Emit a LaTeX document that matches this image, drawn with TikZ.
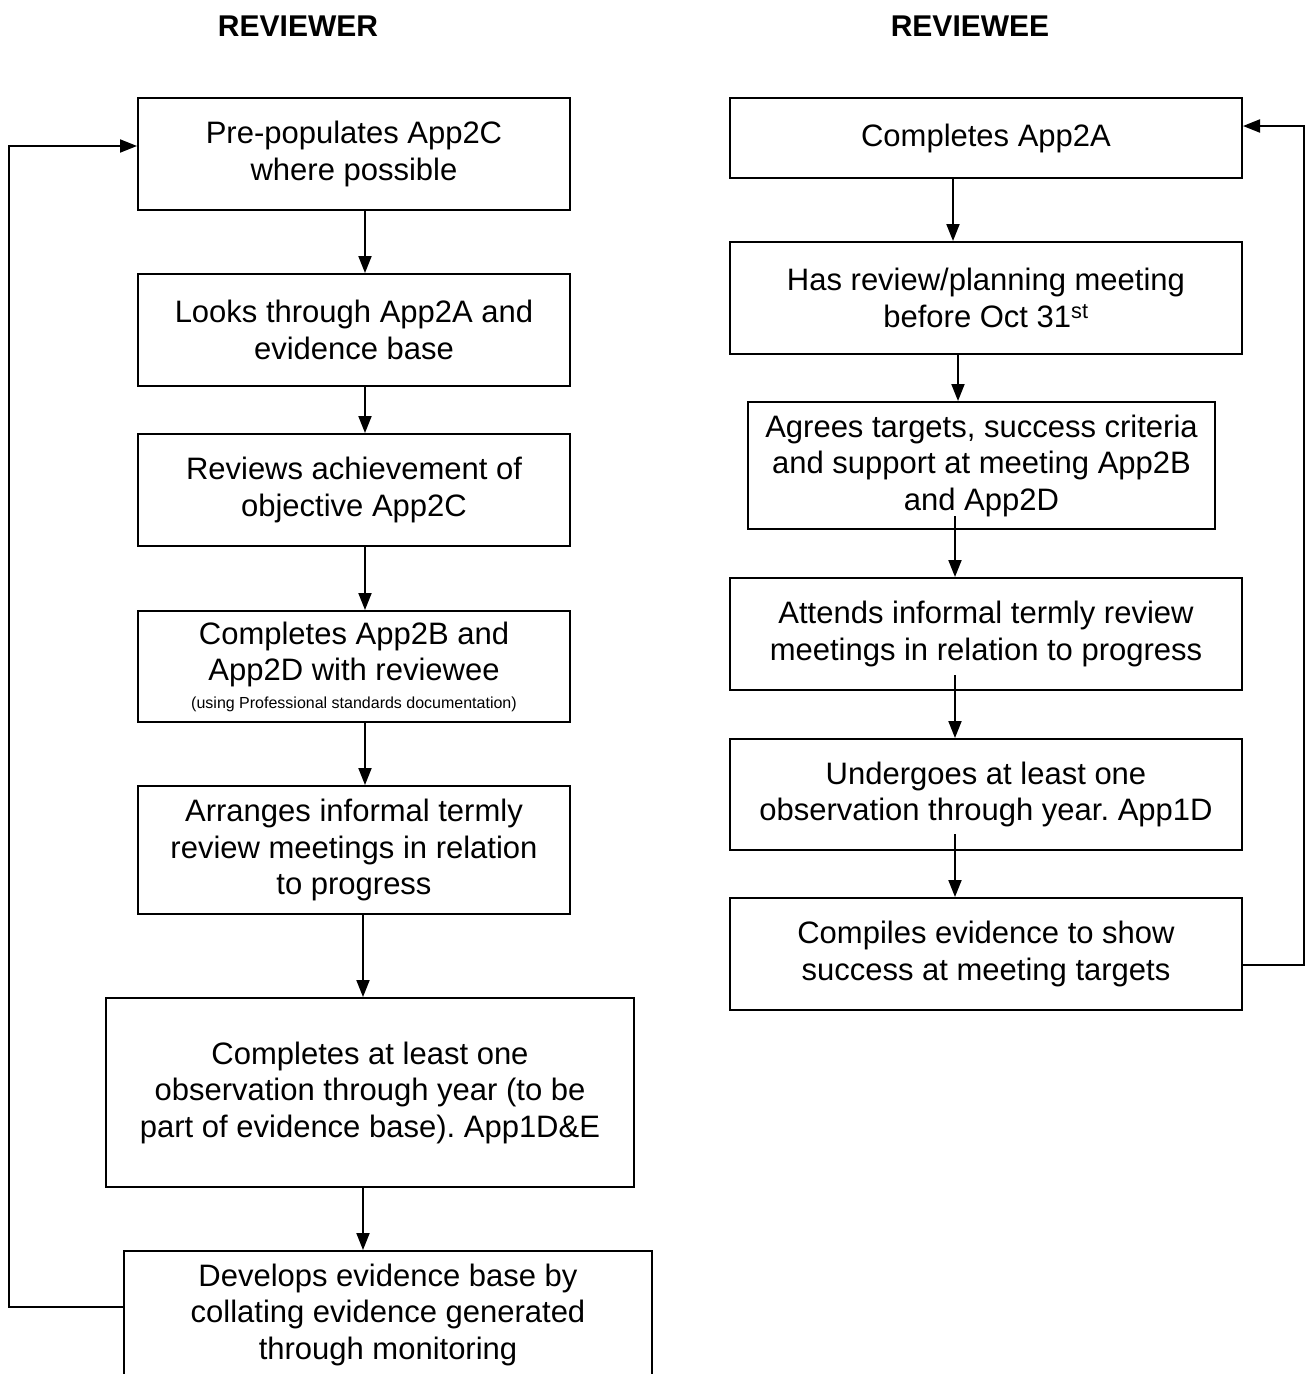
\documentclass[tikz,border=0pt]{standalone}
\usepackage{fontspec}
\setmainfont{Liberation Sans}
\usetikzlibrary{arrows.meta,calc}
\frenchspacing
\begin{document}
\begin{tikzpicture}[x=1pt,y=-1pt,
  box/.style={draw,line width=2pt,align=center,inner sep=0pt,
    font=\fontsize{31}{36.5}\selectfont},
  conn/.style={line width=2pt,-{Triangle[length=17pt,width=13pt]}},
  ttl/.style={font=\fontsize{30}{36}\selectfont\bfseries}]
\clip (0,0) rectangle (1306,1374);
\fill[white] (0,0) rectangle (1306,1374);
% titles
\node[ttl] (t1) at (298,26) {REVIEWER};
\node[ttl] (t2) at (970,26) {REVIEWEE};
% left column
\node[box,minimum width=432pt,minimum height=112pt] (l1) at (354,154) {Pre-populates App2C\\where possible};
\node[box,minimum width=432pt,minimum height=112pt] (l2) at (354,330) {Looks through App2A and\\evidence base};
\node[box,minimum width=432pt,minimum height=112pt] (l3) at (354,490) {Reviews achievement of\\objective App2C};
\node[box,minimum width=432pt,minimum height=111pt] (l4) at (354,666.5) {Completes App2B and\\App2D with reviewee\\[-9pt]{\fontsize{16}{18}\selectfont (using Professional standards documentation)}};
\node[box,minimum width=432pt,minimum height=128pt] (l5) at (354,850) {Arranges informal termly\\review meetings in relation\\to progress};
\node[box,minimum width=528pt,minimum height=189pt] (l6) at (370,1092.5) {Completes at least one\\observation through year (to be\\part of evidence base). App1D\&E};
\node[box,minimum width=528pt,anchor=north,inner ysep=13pt] (l7) at (388,1250) {Develops evidence base by\\collating evidence generated\\through monitoring};
% right column
\node[box,minimum width=512pt,minimum height=80pt] (r1) at (986,138) {Completes App2A};
\node[box,minimum width=512pt,minimum height=112pt] (r2) at (986,298) {Has review/planning meeting\\before Oct 31\textsuperscript{st}};
\node[box,minimum width=467pt,minimum height=127pt] (r3) at (981.5,465.5) {Agrees targets, success criteria\\and support at meeting App2B\\and App2D};
\node[box,minimum width=512pt,minimum height=112pt] (r4) at (986,634) {Attends informal termly review\\meetings in relation to progress};
\node[box,minimum width=512pt,minimum height=111pt] (r5) at (986,794.5) {Undergoes at least one\\observation through year. App1D};
\node[box,minimum width=512pt,minimum height=112pt] (r6) at (986,954) {Compiles evidence to show\\success at meeting targets};
% left connectors
\draw[conn] ([xshift=11pt]l1.south) -- ([xshift=11pt]l2.north);
\draw[conn] ([xshift=11pt]l2.south) -- ([xshift=11pt]l3.north);
\draw[conn] ([xshift=11pt]l3.south) -- ([xshift=11pt]l4.north);
\draw[conn] ([xshift=11pt]l4.south) -- ([xshift=11pt]l5.north);
\draw[conn] ([xshift=9pt]l5.south) -- ([xshift=-7pt]l6.north);
\draw[conn] ([xshift=-7pt]l6.south) -- ([xshift=-25pt]l7.north);
\draw[conn] ([yshift=-57pt]l7.north west) -- ++(-114,0) |- ([yshift=8pt]l1.west);
% right connectors
\draw[conn] ([xshift=-33pt]r1.south) -- ([xshift=-33pt]r2.north);
\draw[conn] ([xshift=-28pt]r2.south) -- ([xshift=-23.5pt]r3.north);
\coordinate (s3) at ([xshift=-26.5pt,yshift=14pt]r3.south);
\draw[conn] (s3) -- ([xshift=-31pt]r4.north);
\coordinate (s4) at ([xshift=-31pt,yshift=16pt]r4.south);
\draw[conn] (s4) -- ([xshift=-31pt]r5.north);
\coordinate (s5) at ([xshift=-31pt,yshift=17pt]r5.south);
\draw[conn] (s5) -- ([xshift=-31pt]r6.north);
\draw[conn] ([yshift=-11pt]r6.east) -- (1304,965) |- ([yshift=12pt]r1.east);
\end{tikzpicture}
\end{document}
